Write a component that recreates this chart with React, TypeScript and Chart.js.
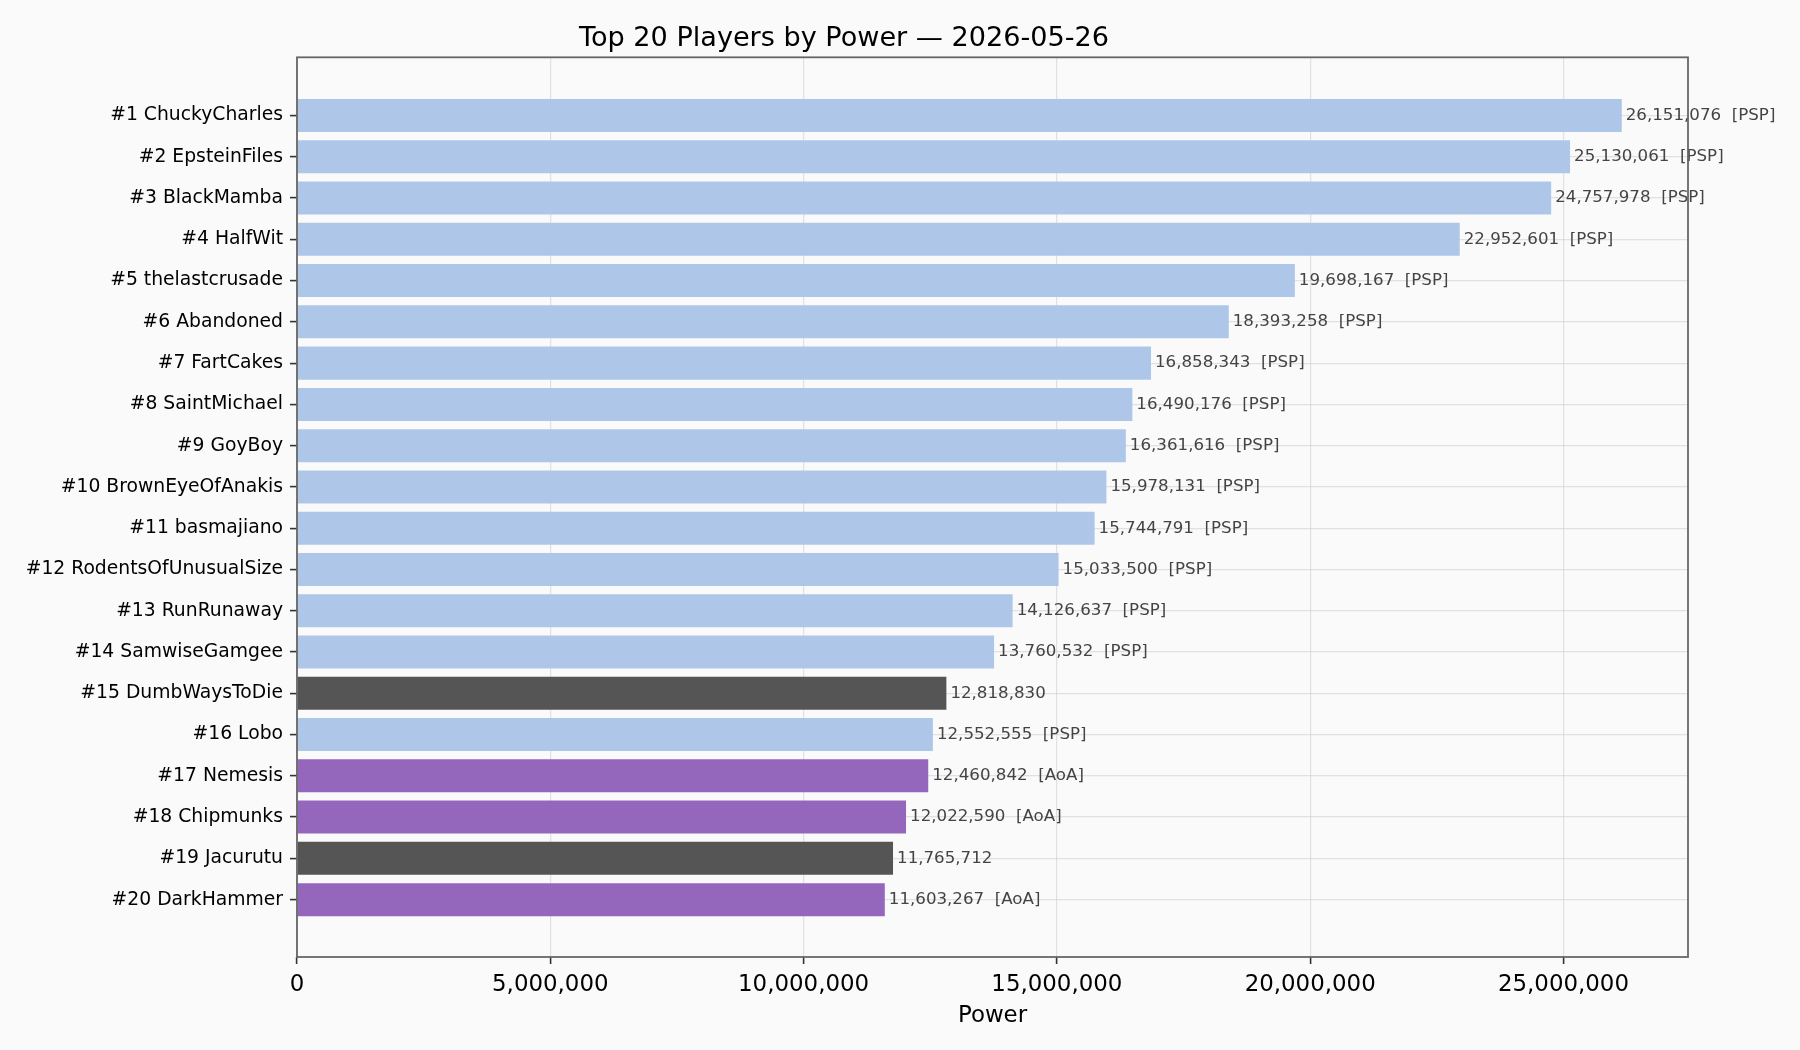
import React, { useEffect, useRef } from 'react';
import { Chart, registerables } from 'chart.js';

Chart.register(...registerables);

// ---- data ----
const players = [
  'ChuckyCharles', 'EpsteinFiles', 'BlackMamba', 'HalfWit', 'thelastcrusade',
  'Abandoned', 'FartCakes', 'SaintMichael', 'GoyBoy', 'BrownEyeOfAnakis',
  'basmajiano', 'RodentsOfUnusualSize', 'RunRunaway', 'SamwiseGamgee', 'DumbWaysToDie',
  'Lobo', 'Nemesis', 'Chipmunks', 'Jacurutu', 'DarkHammer',
];
const powers = [
  26151076, 25130061, 24757978, 22952601, 19698167,
  18393258, 16858343, 16490176, 16361616, 15978131,
  15744791, 15033500, 14126637, 13760532, 12818830,
  12552555, 12460842, 12022590, 11765712, 11603267,
];
const alliances = [
  'PSP', 'PSP', 'PSP', 'PSP', 'PSP',
  'PSP', 'PSP', 'PSP', 'PSP', 'PSP',
  'PSP', 'PSP', 'PSP', 'PSP', '',
  'PSP', 'AoA', 'AoA', '', 'AoA',
];
const xTicks = [0, 5000000, 10000000, 15000000, 20000000, 25000000];
const xMax = 27458630;
const titleText = 'Top 20 Players by Power \u2014 2026-05-26';
const xTitle = 'Power';

const allianceColors: Record<string, string> = {
  PSP: '#aec7e8',
  AoA: '#9467bd',
  '': '#555555',
};

const FONT = '"DejaVu Sans", "Liberation Sans", sans-serif';
const fmt = (v: number) => v.toLocaleString('en-US');

const gridStyle = {
  color: 'rgba(200,200,200,0.5)',
  lineWidth: 1.2,
  tickLength: 7,
  tickColor: '#333333',
  tickWidth: 1.6,
  offset: false,
};

const framePlugin = {
  id: 'frameAndLabels',
  afterDraw(chart: any) {
    const { ctx, chartArea: a, scales } = chart;
    ctx.save();
    ctx.font = `16.67px ${FONT}`;
    ctx.fillStyle = '#444444';
    ctx.textBaseline = 'middle';
    ctx.textAlign = 'left';
    powers.forEach((v, i) => {
      const x = scales.x.getPixelForValue(v) + 4;
      const y = scales.y.getPixelForValue(i);
      const txt = fmt(v) + (alliances[i] ? `  [${alliances[i]}]` : '');
      ctx.fillText(txt, x, y);
    });
    ctx.strokeStyle = '#666666';
    ctx.lineWidth = 1.8;
    ctx.strokeRect(a.left, a.top, a.right - a.left, a.bottom - a.top);
    ctx.restore();
  },
};

export default function App() {
  const ref = useRef<HTMLCanvasElement | null>(null);

  useEffect(() => {
    if (!ref.current) return;
    Chart.defaults.font.family = FONT;
    const chart = new Chart(ref.current, {
      type: 'bar',
      data: {
        datasets: [
          {
            data: powers.map((v, i) => ({ x: v, y: i })),
            backgroundColor: alliances.map((t) => allianceColors[t]),
            borderWidth: 0,
            barPercentage: 0.8,
            categoryPercentage: 1,
          },
        ],
      },
      options: {
        indexAxis: 'y',
        animation: false,
        responsive: false,
        maintainAspectRatio: false,
        devicePixelRatio: 1,
        events: [],
        layout: { autoPadding: false, padding: { top: 0, right: 112, bottom: 0, left: 0 } },
        plugins: {
          legend: { display: false },
          tooltip: { enabled: false },
          title: {
            display: true,
            text: titleText,
            color: '#000000',
            font: { size: 27.1, weight: 'normal', family: FONT },
            padding: { top: 22.5, bottom: 2.3 },
          },
        },
        scales: {
          x: {
            type: 'linear',
            position: 'bottom',
            min: 0,
            max: xMax,
            offset: false,
            z: 1,
            afterBuildTicks: (s: any) => {
              s.ticks = xTicks.map((v) => ({ value: v }));
            },
            ticks: {
              callback: (v: any) => fmt(Number(v)),
              color: '#000000',
              font: { size: 22.9, family: FONT },
              padding: 7,
              maxRotation: 0,
              autoSkip: false,
            },
            grid: gridStyle,
            border: { display: false },
            title: {
              display: true,
              text: xTitle,
              color: '#000000',
              font: { size: 22.9, family: FONT },
              padding: { top: 0, bottom: 20 },
            },
            afterFit: (s: any) => {
              s.height = 93;
            },
          },
          y: {
            type: 'linear',
            reverse: true,
            min: -1.41,
            max: 20.39,
            offset: false,
            z: 1,
            afterBuildTicks: (s: any) => {
              s.ticks = players.map((_, i) => ({ value: i }));
            },
            ticks: {
              callback: (v: any) => `#${Number(v) + 1} ${players[Number(v)]}`,
              color: '#000000',
              font: { size: 18.75, family: FONT },
              padding: 7,
              autoSkip: false,
            },
            grid: gridStyle,
            border: { display: false },
            afterFit: (s: any) => {
              s.width = 297;
            },
          },
        },
      } as any,
      plugins: [framePlugin],
    });
    return () => chart.destroy();
  }, []);

  return (
    <div
      style={{
        position: 'fixed',
        left: 0,
        top: 0,
        width: 1800,
        height: 1050,
        background: '#fafafa',
      }}
    >
      <canvas ref={ref} width={1800} height={1050} style={{ display: 'block' }} />
    </div>
  );
}
